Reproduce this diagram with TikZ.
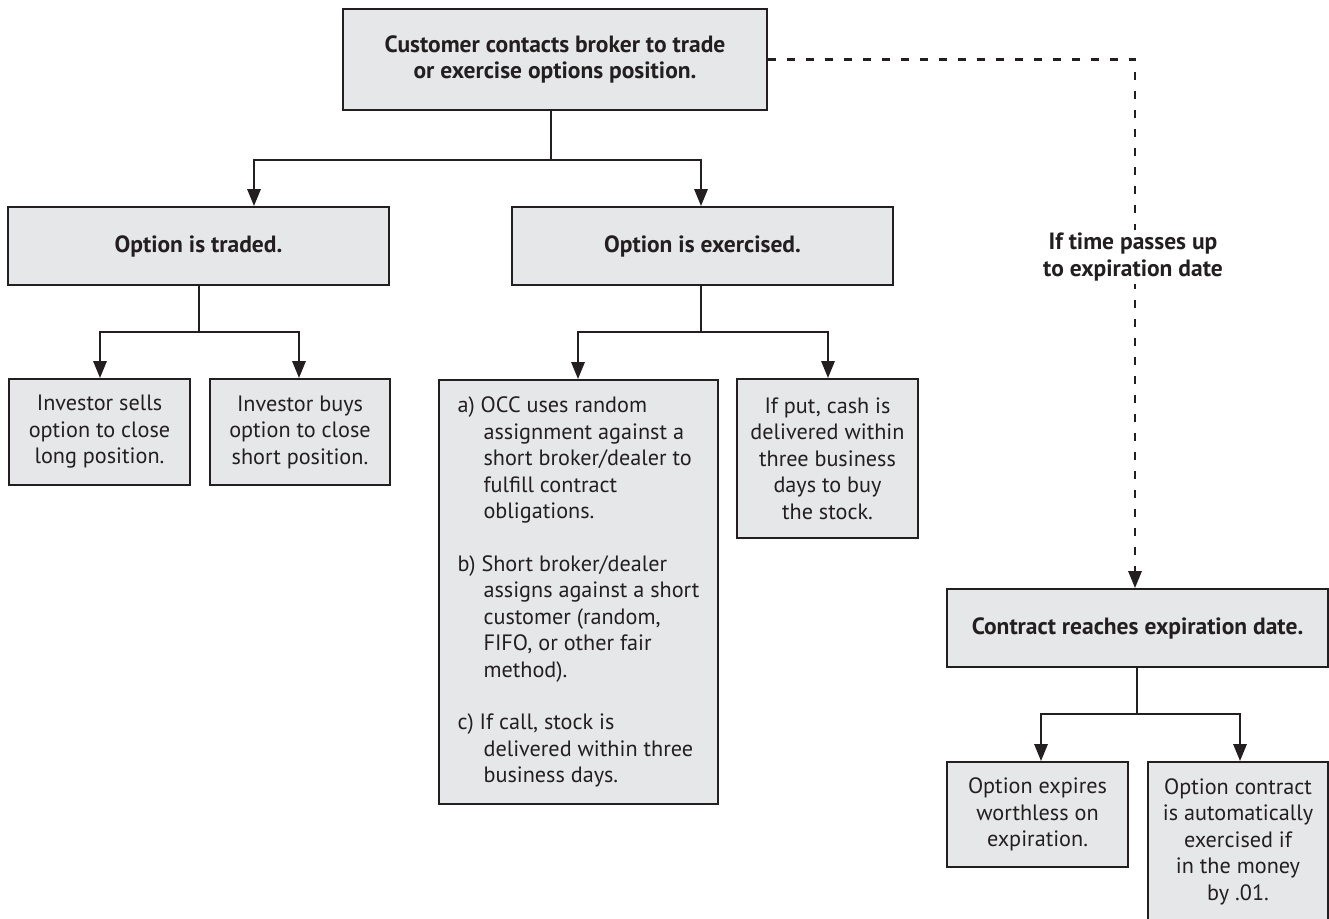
\documentclass[tikz,border=0pt]{standalone}
\usepackage{fontspec}
\setmainfont{PT Sans}
\usetikzlibrary{arrows.meta}
\definecolor{boxfill}{HTML}{E6E7E8}
\definecolor{ink}{HTML}{231F20}
\newcommand\hang{\hspace*{26pt}}
\begin{document}
\begin{tikzpicture}[x=1pt,y=-1pt,
  box/.style={draw=ink, fill=boxfill, line width=1.7pt, inner sep=0pt,
    align=center, text=ink, font=\fontsize{22.2}{26.5}\selectfont},
  headbox/.style={box, font=\fontsize{23.5}{26}\selectfont\bfseries},
  wire/.style={draw=ink, line width=2.8pt},
  link/.style={wire, -{Triangle[length=17pt,width=13pt]}},
  dashlink/.style={link, dash pattern=on 8pt off 11pt},
  note/.style={fill=white, text=ink, align=center, inner sep=3pt,
    font=\fontsize{23.5}{27}\selectfont\bfseries}
]
\useasboundingbox (0,0) rectangle (1329,918);

% boxes
\node[headbox, minimum width=424, minimum height=101] (top) at (555,59.5)
  {Customer contacts broker to trade\\or exercise options position.};
\node[headbox, minimum width=381, minimum height=78] (traded) at (198.5,246)
  {Option is traded.};
\node[headbox, minimum width=381, minimum height=78] (exercised) at (702.5,246)
  {Option is exercised.};
\node[box, minimum width=181, minimum height=106] (sells) at (99.5,432)
  {Investor sells\\option to close\\long position.};
\node[box, minimum width=180, minimum height=106] (buys) at (300,432)
  {Investor buys\\option to close\\short position.};
\node[box, minimum width=279, minimum height=424, align=left] (occ) at (578.5,592)
  {a) OCC uses random\\\hang assignment against a\\\hang short broker/dealer to\\\hang fulfill contract\\\hang obligations.\\[26pt]
   b) Short broker/dealer\\\hang assigns against a short\\\hang customer (random,\\\hang FIFO, or other fair\\\hang method).\\[26pt]
   c) If call, stock is\\\hang delivered within three\\\hang business days.};
\node[box, minimum width=181, minimum height=159] (put) at (827.5,458.5)
  {If put, cash is\\delivered within\\three business\\days to buy\\the stock.};
\node[headbox, minimum width=381, minimum height=78] (contract) at (1137.5,628)
  {Contract reaches expiration date.};
\node[box, minimum width=181, minimum height=105] (worthless) at (1037.5,814.5)
  {Option expires\\worthless on\\expiration.};
\node[box, minimum width=180, minimum height=159] (auto) at (1238,841.5)
  {Option contract\\is automatically\\exercised if\\in the money\\by .01.};

% branch points
\coordinate (j1) at (551,160);
\coordinate (j2) at (199,332);
\coordinate (j3) at (701,332);
\coordinate (j4) at (1137,714);

% connectors
\draw[wire] (top.south -| j1) -- (j1);
\draw[link] (j1) -| ([xshift=55.5pt]traded.north);
\draw[link] (j1) -| ([xshift=-1.5pt]exercised.north);

\draw[wire] (traded.south -| j2) -- (j2);
\draw[link] (j2) -| ([xshift=0.5pt]sells.north);
\draw[link] (j2) -| ([xshift=-1pt]buys.north);

\draw[wire] (exercised.south -| j3) -- (j3);
\draw[link] (j3) -| ([xshift=-0.5pt]occ.north);
\draw[link] (j3) -| ([xshift=0.5pt]put.north);

\draw[wire] (contract.south -| j4) -- (j4);
\draw[link] (j4) -| ([xshift=3.5pt]worthless.north);
\draw[link] (j4) -| ([xshift=2pt]auto.north);

% expiration path
\draw[dashlink] (top.east) -| ([xshift=-2.5pt]contract.north);
\node[note] (lbl) at (1133,257) {If time passes up\\to expiration date};
\end{tikzpicture}
\end{document}
